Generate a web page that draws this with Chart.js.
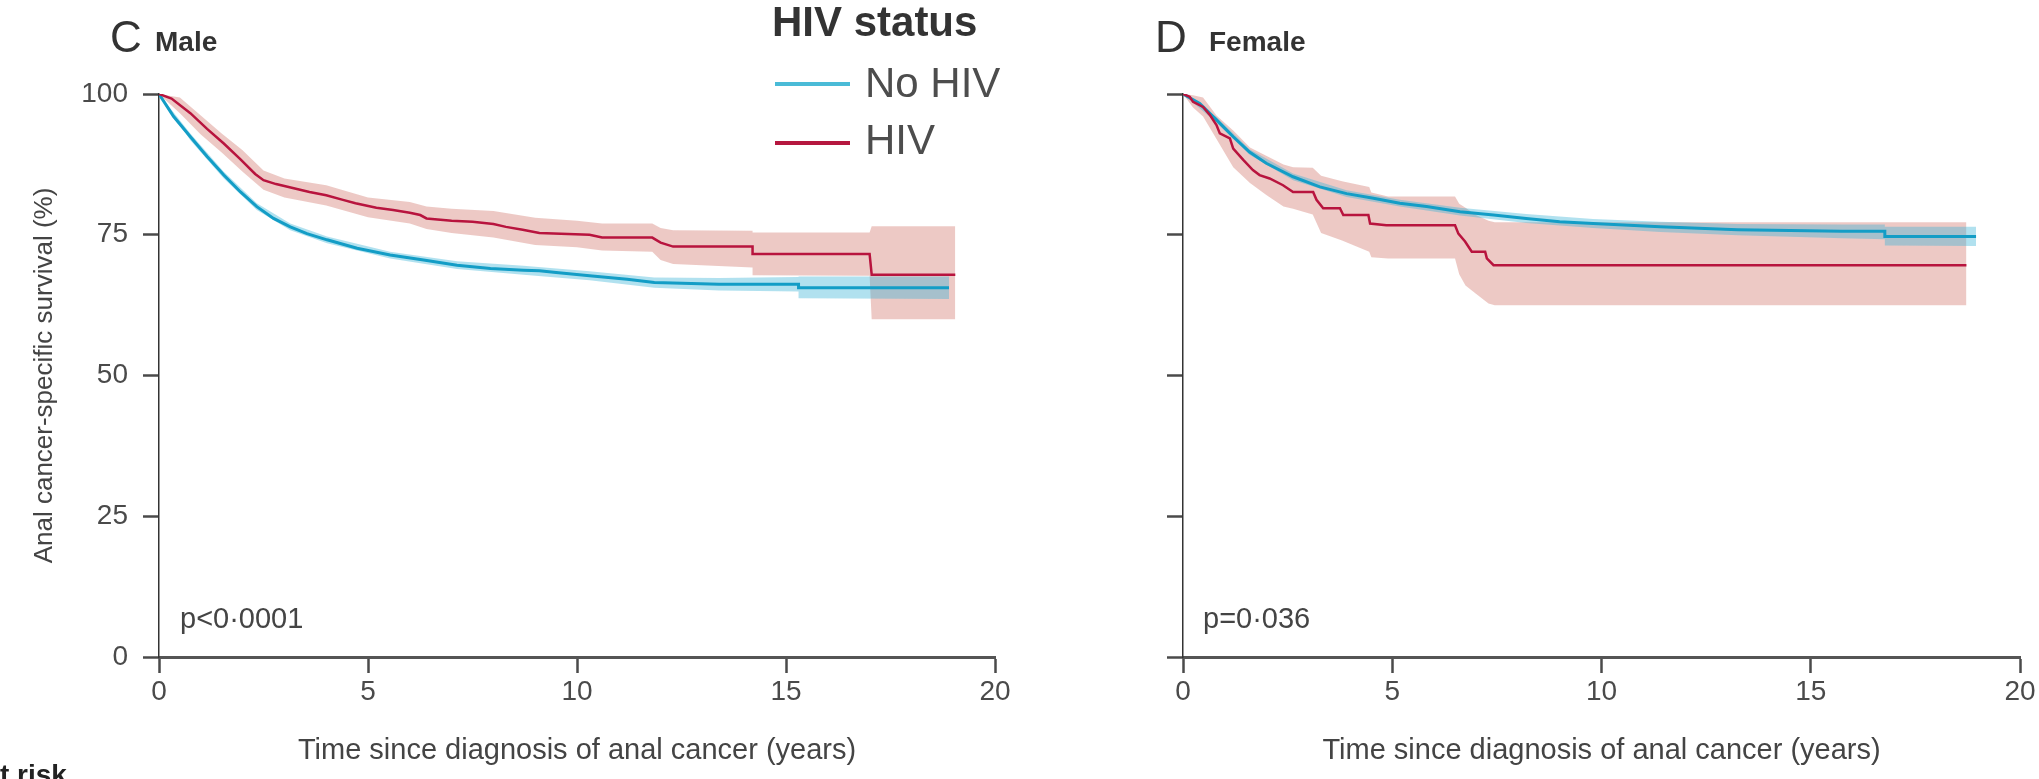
<!DOCTYPE html>
<html lang="en">
<head>
  <meta charset="UTF-8" />
  <title>Anal cancer-specific survival by HIV status</title>
  <script src="https://cdn.jsdelivr.net/npm/chart.js"></script>
  <style>
    body {
      margin: 0;
      width: 2039px;
      height: 779px;
      overflow: hidden;
      background: white;
      position: relative;
      font-family: 'Liberation Sans', Arial, sans-serif;
      color: #333;
    }
    canvas { position: absolute; top: 0; }
    #maleChart { left: 0; }
    #femaleChart { left: 1020px; }
    .txt {
      position: absolute;
      line-height: 1;
      white-space: nowrap;
    }
    .letter { font-size: 44px; color: #333; }
    .panel { font-size: 28px; font-weight: bold; color: #333; }
    .legend-title { font-size: 42px; font-weight: bold; color: #333; }
    .legend-item { font-size: 42px; color: #4d4d4d; }
    .pval { font-size: 29px; color: #444; }
    .swatch { position: absolute; width: 75px; height: 4px; }
  </style>
</head>
<body>
  <canvas id="maleChart" width="1015" height="779"></canvas>
  <canvas id="femaleChart" width="1019" height="779"></canvas>

  <span class="txt letter" style="left:110px; top:15px;">C</span>
  <span class="txt panel" style="left:155px; top:28px;">Male</span>
  <span class="txt letter" style="left:1155px; top:15px;">D</span>
  <span class="txt panel" style="left:1209px; top:28px;">Female</span>

  <span class="txt legend-title" style="left:772px; top:1px;">HIV status</span>
  <div class="swatch" style="left:775px; top:82px; background:#4abbd7;"></div>
  <span class="txt legend-item" style="left:865px; top:62px;">No HIV</span>
  <div class="swatch" style="left:775px; top:141px; background:#b5173f;"></div>
  <span class="txt legend-item" style="left:865px; top:119px;">HIV</span>

  <span class="txt pval" style="left:180px; top:604px;">p&lt;0·0001</span>
  <span class="txt pval" style="left:1203px; top:604px;">p=0·036</span>

  <span class="txt panel" style="left:0px; top:761px; color:#222;">t risk</span>

  <script>
    // axis ticks
    const yearTicks = [0, 5, 10, 15, 20];
    const survivalTicks = [0, 25, 50, 75, 100];

    // [years, survival %]
    const maleNoHiv = [
      [0, 100], [0.35, 96.0], [0.75, 92.4], [1.15, 88.9], [1.55, 85.6], [1.95, 82.6],
      [2.34, 80.0], [2.74, 77.9], [3.14, 76.4], [3.54, 75.2], [4.02, 74.1], [4.74, 72.6],
      [5.53, 71.4], [6.33, 70.5], [7.13, 69.6], [7.93, 69.0], [8.72, 68.7], [9.1, 68.6],
      [9.5, 68.3], [10.3, 67.7], [11.2, 67.1], [11.85, 66.5], [13.4, 66.2], [15.3, 66.2],
      [15.3, 65.6], [18.9, 65.6]
    ];
    // [years, lower, upper]
    const maleNoHivCI = [
      [0, 100, 100], [0.75, 91.8, 93.0], [1.55, 85.0, 86.2], [2.34, 79.4, 80.6],
      [3.14, 75.8, 77.0], [4.02, 73.5, 74.7], [5.53, 70.8, 72.0], [7.13, 68.9, 70.3],
      [8.72, 67.9, 69.5], [10.3, 66.9, 68.5], [11.85, 65.6, 67.4], [13.4, 65.1, 67.3],
      [15.3, 64.9, 67.5], [15.3, 63.7, 67.6], [18.9, 63.6, 67.6]
    ];
    const maleHiv = [
      [0, 100], [0.3, 99.2], [0.75, 96.6], [1.15, 93.8], [1.55, 91.2], [1.95, 88.4],
      [2.3, 85.8], [2.5, 84.7], [2.8, 84.0], [3.15, 83.4], [3.6, 82.6], [4.0, 82.0],
      [4.4, 81.2], [4.7, 80.6], [5.2, 79.8], [5.6, 79.4], [6.0, 78.9], [6.25, 78.5],
      [6.4, 77.9], [7.0, 77.5], [7.5, 77.3], [8.0, 76.9], [8.3, 76.4], [8.7, 75.9],
      [9.1, 75.3], [10.3, 75.0], [10.6, 74.5], [11.8, 74.5], [12.0, 73.6], [12.3, 72.9],
      [14.2, 72.9], [14.2, 71.6], [17.0, 71.6], [17.05, 67.9], [19.05, 67.9]
    ];
    const maleHivCI = [
      [0, 100, 100], [0.5, 96.6, 99.4], [1.0, 92.8, 96.2], [1.5, 89.6, 93.0],
      [2.0, 86.2, 90.0], [2.5, 83.0, 86.4], [3.0, 81.6, 85.0], [4.0, 80.2, 83.8],
      [5.0, 78.1, 81.6], [6.0, 77.0, 80.8], [6.4, 76.0, 80.0], [7.0, 75.3, 79.6],
      [8.0, 74.5, 79.2], [9.0, 73.2, 78.0], [10.0, 72.8, 77.5], [10.6, 72.2, 77.0],
      [11.8, 72.0, 77.0], [12.0, 70.5, 76.2], [12.3, 69.8, 75.8], [14.2, 69.2, 75.7],
      [14.2, 67.8, 75.4], [17.0, 67.7, 75.4], [17.05, 60.0, 76.5], [19.05, 60.0, 76.5]
    ];

    const femaleNoHiv = [
      [0, 100], [0.4, 98.3], [0.8, 95.4], [1.2, 92.4], [1.59, 89.7], [1.99, 87.7],
      [2.63, 85.3], [3.27, 83.5], [3.91, 82.3], [4.55, 81.5], [5.18, 80.6], [5.82, 80.0],
      [6.62, 79.1], [7.42, 78.5], [8.2, 77.9], [9.0, 77.3], [9.8, 77.0], [11.4, 76.4],
      [13.25, 75.9], [15.75, 75.6], [16.77, 75.6], [16.77, 74.7], [18.95, 74.7]
    ];
    const femaleNoHivCI = [
      [0, 100, 100], [0.8, 94.9, 95.9], [1.59, 89.2, 90.2], [2.63, 84.7, 85.9],
      [3.91, 81.7, 82.9], [5.18, 80.0, 81.2], [6.62, 78.4, 79.8], [8.2, 77.1, 78.7],
      [9.8, 76.2, 77.8], [11.4, 75.5, 77.3], [13.25, 74.9, 76.9], [15.75, 74.4, 76.8],
      [16.77, 74.2, 76.8], [16.77, 73.1, 76.4], [18.95, 73.0, 76.4]
    ];
    const femaleHiv = [
      [0, 100], [0.16, 99.5], [0.24, 98.6], [0.48, 97.7], [0.64, 96.3], [0.8, 94.5],
      [0.88, 93.0], [1.12, 92.1], [1.2, 90.3], [1.44, 88.3], [1.67, 86.5], [1.83, 85.6],
      [2.07, 85.0], [2.39, 83.8], [2.63, 82.6], [3.11, 82.6], [3.19, 81.2], [3.35, 79.7],
      [3.75, 79.7], [3.83, 78.5], [4.43, 78.5], [4.47, 77.0], [4.86, 76.7], [6.5, 76.7],
      [6.58, 75.2], [6.74, 73.8], [6.9, 72.0], [7.22, 72.0], [7.26, 70.8], [7.42, 69.6],
      [18.72, 69.6]
    ];
    const femaleHivCI = [
      [0, 100, 100], [0.24, 97.6, 99.8], [0.48, 96.0, 99.4], [0.8, 92.0, 96.2],
      [1.2, 87.0, 93.5], [1.6, 84.2, 90.5], [2.0, 82.0, 89.0], [2.4, 80.0, 87.5],
      [2.63, 79.6, 87.0], [3.1, 78.6, 86.9], [3.3, 75.3, 85.5], [3.8, 74.0, 84.5],
      [4.45, 72.0, 83.5], [4.5, 71.0, 82.5], [4.9, 70.8, 81.8], [6.5, 70.8, 81.8],
      [6.6, 68.0, 80.5], [6.75, 66.0, 79.8], [7.0, 64.5, 78.5], [7.3, 62.8, 77.5],
      [7.45, 62.5, 77.2], [18.72, 62.5, 77.2]
    ];

    const seriesLabels = ['No HIV', 'HIV'];

    const RED = '#b8143e';
    const BLUE = '#139dc6';
    const RED_BAND = 'rgba(210,120,110,0.40)';
    const BLUE_BAND = 'rgba(60,180,215,0.40)';
    const FONT = "'Liberation Sans', Arial, sans-serif";

    const pts = arr => arr.map(p => ({ x: p[0], y: p[1] }));
    const band = (arr, i) => arr.map(p => ({ x: p[0], y: p[i] }));

    function makePanel(id, noHiv, noHivCI, hiv, hivCI, yWidth, padRight, showY) {
      return new Chart(document.getElementById(id), {
        type: 'line',
        data: {
          datasets: [
            // first dataset is drawn on top
            { label: seriesLabels[1], data: pts(hiv), borderColor: RED, borderWidth: 2.5, fill: false },
            { label: seriesLabels[0], data: pts(noHiv), borderColor: BLUE, borderWidth: 3, fill: false },
            { data: band(noHivCI, 2), borderColor: 'transparent', backgroundColor: BLUE_BAND, fill: '+1' },
            { data: band(noHivCI, 1), borderColor: 'transparent', fill: false },
            { data: band(hivCI, 2), borderColor: 'transparent', backgroundColor: RED_BAND, fill: '+1' },
            { data: band(hivCI, 1), borderColor: 'transparent', fill: false }
          ]
        },
        options: {
          responsive: false,
          animation: false,
          devicePixelRatio: 1,
          layout: { padding: { left: 0, right: padRight, top: 94, bottom: 0 } },
          elements: { point: { radius: 0 }, line: { tension: 0 } },
          plugins: { legend: { display: false }, tooltip: { enabled: false } },
          scales: {
            x: {
              type: 'linear', min: 0, max: 20,
              afterBuildTicks: s => { s.ticks = yearTicks.map(v => ({ value: v })); },
              afterFit: s => { s.height = 122; },
              grid: { drawOnChartArea: false, tickLength: 16, tickWidth: 2.5, tickColor: '#4a4a4a' },
              border: { color: '#555', width: 3 },
              ticks: { padding: 2, color: '#4a4a4a', font: { family: FONT, size: 28 } },
              title: {
                display: true, text: 'Time since diagnosis of anal cancer (years)',
                color: '#444', font: { family: FONT, size: 29 }, padding: { top: 0, bottom: 11 }
              }
            },
            y: {
              type: 'linear', min: 0, max: 100,
              afterBuildTicks: s => { s.ticks = survivalTicks.map(v => ({ value: v })); },
              afterFit: s => { s.width = yWidth; },
              grid: { drawOnChartArea: false, tickLength: 16, tickWidth: 2.5, tickColor: '#4a4a4a' },
              border: { color: '#333', width: 1.5 },
              ticks: { display: showY, padding: 15, color: '#4a4a4a', font: { family: FONT, size: 28 } },
              title: {
                display: showY, text: 'Anal cancer-specific survival (%)',
                color: '#444', font: { family: FONT, size: 26 }, padding: { top: 29, bottom: 0 }
              }
            }
          }
        }
      });
    }

    makePanel('maleChart', maleNoHiv, maleNoHivCI, maleHiv, maleHivCI, 159, 20, true);
    makePanel('femaleChart', femaleNoHiv, femaleNoHivCI, femaleHiv, femaleHivCI, 163, 19, false);
  </script>
</body>
</html>
